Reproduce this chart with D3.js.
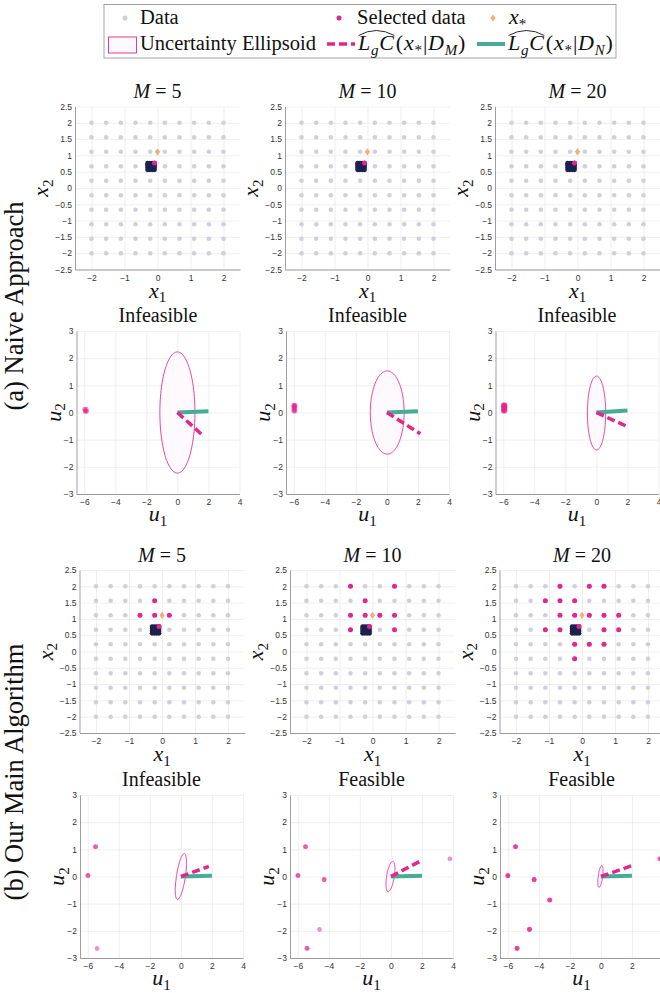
<!DOCTYPE html>
<html><head><meta charset="utf-8">
<script src="https://cdn.jsdelivr.net/npm/d3@7"></script>
<style>body{margin:0;background:#fff}svg{display:block}</style>
</head><body><svg id="c" width="660" height="993"></svg>
<script>
// ---------- data ----------
const gridVals = [-2,-1.556,-1.111,-0.667,-0.222,0.222,0.667,1.111,1.556,2];
const clusterX = [-0.30,-0.23,-0.16,-0.09];
const clusterY = [0.56,0.63,0.70,0.76];
const xStar = [0, 1.111];
const Mvals = [5,10,20];
const rowTitlesTop = ["Infeasible","Infeasible","Infeasible"];
const rowTitlesBot = ["Infeasible","Feasible","Feasible"];
const xTicks = [-2,-1,0,1,2];
const yTicks = [-2.5,-2,-1.5,-1,-0.5,0,0.5,1,1.5,2,2.5];
const uxTicks = [-6,-4,-2,0,2,4];
const uyTicks = [-3,-2,-1,0,1,2,3];

const selNaive5 = [[-0.09,0.77]];
const selNaive10 = [[-0.09,0.77]];
const selNaive20 = [[-0.09,0.77]];
const selMain5 = [[-0.222,1.556],[-0.667,1.111],[-0.222,1.111],[0.222,1.111],[-0.09,0.77]];
const selMain10 = [[-0.667,2],[0.667,2],[-0.222,1.556],[-0.667,1.111],[-0.222,1.111],[0.222,1.111],[0.667,1.111],[-0.667,0.667],[0.667,0.667],[-0.09,0.77]];
const selMain20 = [[-0.667,2],[0.222,2],[0.667,2],[-1.111,1.556],[-0.667,1.556],[-0.222,1.556],[-0.667,1.111],[-0.222,1.111],[0.222,1.111],[0.667,1.111],[1.111,1.111],[-1.111,0.667],[-0.667,0.667],[0.667,0.667],[1.111,0.667],[-0.222,0.222],[0.222,0.222],[0.667,0.222],[-0.222,-0.222],[-0.09,0.77]];

const uNaive5 = [[-5.95,0.06],[-5.88,0.12],[-5.84,0.05],[-5.92,0.03],[-5.97,0.12]];
const uNaive10 = [[-6.0,0.05],[-5.92,0.05],[-6.0,0.14],[-5.92,0.14],[-6.0,0.23],[-5.92,0.23],[-5.96,0.1],[-5.96,0.19],[-6.0,0.27],[-5.92,0.27]];
const uNaive20 = [[-6.0,0.05],[-5.94,0.05],[-5.88,0.05],[-6.0,0.11],[-5.94,0.11],[-5.88,0.11],[-6.0,0.17],[-5.94,0.17],[-5.88,0.17],[-6.0,0.23],[-5.94,0.23],[-5.88,0.23],[-6.0,0.28],[-5.94,0.28],[-5.88,0.28],[-5.97,0.08],[-5.91,0.14],[-5.97,0.2],[-5.91,0.26],[-5.97,0.26]];
const uMain5 = [[-5.5,1.1],[-6.0,0.03],[-5.4,-2.65],[-5.98,0.04],[-5.5,1.09]];
const uMain10 = [[-5.5,1.1],[-6.0,0.03],[-4.3,-0.12],[-4.6,-1.95],[-5.4,-2.65],[3.8,0.65],[-5.98,0.04],[-5.5,1.09],[-4.3,-0.11],[-5.4,-2.64]];
const uMain20 = [[-5.5,1.1],[-6.0,0.03],[-4.3,-0.12],[-3.3,-0.87],[-4.6,-1.95],[-5.4,-2.65],[3.8,0.65],[-5.98,0.04],[-5.5,1.09],[-4.3,-0.11],[-5.4,-2.64],[-3.3,-0.86],[-4.6,-1.94],[-6.0,0.02],[-5.5,1.1],[-4.3,-0.12],[-3.3,-0.87],[-4.6,-1.95],[-5.4,-2.65],[3.8,0.65]];

// uncertainty ellipsoids: centre, semi-axes (major ~vertical, minor), tilt (deg)
const ellCx = [0, 0.02, 0.01, 0, -0.03, -0.03];
const ellCy = [0, 0, -0.02, 0, 0, 0];
const ellA = [2.23, 1.53, 1.36, 0.88, 0.58, 0.41];
const ellB = [1.13, 1.09, 0.59, 0.28, 0.24, 0.14];
const ellTilt = [0, 0, 0, 16, 18, 14];
// LgC estimates (end points, from origin)
const lgcM = [[1.65,-0.85],[2.15,-0.78],[2.0,-0.52],[1.8,0.37],[2.0,0.6],[2.0,0.4]];
const lgcN = [[2.0,0.05],[2.0,0.05],[2.0,0.07],[2.0,0.03],[2.0,0.03],[2.0,0.03]];

// ---------- style ----------
const C_GRAY = "#cfd0da", C_NAVY = "#1c2150", C_PINK = "#e3268b", C_ORANGE = "#f3ad7a", C_TEAL = "#48ab97";
const C_FILL = "#fef9fc";
const SERIF = "'Liberation Serif','Times New Roman',serif";
const SANS = "'Liberation Sans',Arial,sans-serif";
const svg = d3.select("#c");
svg.append("rect").attr("width",660).attr("height",993).attr("fill","#fff");

const W_X = 165, W_U = 163, H = 163;
const topXLeft = [75, 285, 495], topULeft = [76.5, 286, 495.5];
const botXLeft = [79.5, 290, 499.5], botULeft = [80, 290, 500];
const topXTop = 106.5, topUTop = 331, botXTop = 570, botUTop = 795;

function axes(g, xs, ys, xt, yt, w, h, fmtY) {
  g.append("g").attr("transform",`translate(0,${h})`)
    .call(d3.axisBottom(xs).tickValues(xt).tickSize(-h).tickFormat(""))
    .call(s=>{s.select(".domain").remove(); s.selectAll("line").attr("stroke","#e4e4e4").attr("stroke-width",0.6);});
  g.append("g")
    .call(d3.axisLeft(ys).tickValues(yt).tickSize(-w).tickFormat(""))
    .call(s=>{s.select(".domain").remove(); s.selectAll("line").attr("stroke","#e4e4e4").attr("stroke-width",0.6);});
  g.append("g").attr("transform",`translate(0,${h})`)
    .call(d3.axisBottom(xs).tickValues(xt).tickSize(0).tickPadding(5).tickFormat(d3.format("d")))
    .call(s=>{s.select(".domain").attr("stroke","#777").attr("stroke-width",0.7);
      s.selectAll("text").attr("font-family",SANS).attr("font-size",8.5).attr("fill","#333");});
  g.append("g")
    .call(d3.axisLeft(ys).tickValues(yt).tickSize(0).tickPadding(3).tickFormat(fmtY))
    .call(s=>{s.select(".domain").attr("stroke","#777").attr("stroke-width",0.7);
      s.selectAll("text").attr("font-family",SANS).attr("font-size",8.5).attr("fill","#333");});
}

function varLabel(g, x, y, v, sub, rotate) {
  const t = g.append("text").attr("font-family",SERIF).attr("font-size",22).attr("fill","#111")
    .attr("text-anchor","middle")
    .attr("transform", rotate ? `translate(${x},${y}) rotate(-90)` : `translate(${x},${y})`);
  t.append("tspan").attr("font-style","italic").text(v);
  t.append("tspan").attr("font-size",15).attr("dy",4.5).text(sub);
}

function title(g, cx, y, parts) {
  const t = g.append("text").attr("x",cx).attr("y",y).attr("text-anchor","middle")
    .attr("font-family",SERIF).attr("font-size",20).attr("fill","#111");
  parts.forEach(p=>t.append("tspan").attr("font-style",p.it?"italic":"normal").text(p.t));
}

const diamond = (cx, cy, hw, hh) => `M${cx},${cy-hh}L${cx+hw},${cy}L${cx},${cy+hh}L${cx-hw},${cy}Z`;

function panelX(left, top, M, sel) {
  const xs = d3.scaleLinear().domain([-2.5,2.5]).range([0,W_X]);
  const ys = d3.scaleLinear().domain([-2.5,2.5]).range([H,0]);
  const g = svg.append("g").attr("transform",`translate(${left},${top})`);
  axes(g, xs, ys, xTicks, yTicks, W_X, H, d=>d3.format("")(d));
  const grid = d3.cross(gridVals, gridVals);
  g.selectAll(".d").data(grid).join("circle").attr("cx",d=>xs(d[0])).attr("cy",d=>ys(d[1])).attr("r",2.3).attr("fill",C_GRAY);
  const cl = d3.cross(clusterX, clusterY);
  g.selectAll(".n").data(cl).join("circle").attr("cx",d=>xs(d[0])).attr("cy",d=>ys(d[1])).attr("r",2.4).attr("fill",C_NAVY);
  g.selectAll(".s").data(sel).join("circle").attr("cx",d=>xs(d[0])).attr("cy",d=>ys(d[1])).attr("r",2.5).attr("fill",C_PINK);
  g.append("path").attr("d",diamond(xs(xStar[0]),ys(xStar[1]),2.6,3.6)).attr("fill",C_ORANGE);
  title(g, W_X/2, -8.5, [{t:"M",it:true},{t:" = "+M}]);
  varLabel(g, W_X/2, H+28, "x", "1", false);
  varLabel(g, -27, H/2, "x", "2", true);
}

function panelU(left, top, pts, k, ttl) {
  const xs = d3.scaleLinear().domain([-6.5,4]).range([0,W_U]);
  const ys = d3.scaleLinear().domain([-3,3]).range([H,0]);
  const g = svg.append("g").attr("transform",`translate(${left},${top})`);
  axes(g, xs, ys, uxTicks, uyTicks, W_U, H, d3.format("d"));
  const a = ellA[k], b = ellB[k], ph = ellTilt[k]*Math.PI/180;
  const ts = d3.range(0, 2*Math.PI, Math.PI/60);
  const ep = ts.map(t=>[ellCx[k] + a*Math.cos(t)*Math.sin(ph) + b*Math.sin(t)*Math.cos(ph),
                        ellCy[k] + a*Math.cos(t)*Math.cos(ph) - b*Math.sin(t)*Math.sin(ph)]);
  g.append("path").attr("d", d3.line().x(d=>xs(d[0])).y(d=>ys(d[1])).curve(d3.curveLinearClosed)(ep))
    .attr("fill",C_FILL).attr("stroke",C_PINK).attr("stroke-width",0.85);
  g.selectAll(".p").data(pts).join("circle").attr("cx",d=>xs(d[0])).attr("cy",d=>ys(d[1])).attr("r",2.4)
    .attr("fill",C_PINK).attr("fill-opacity",0.5);
  g.append("line").attr("x1",xs(0)).attr("y1",ys(0)).attr("x2",xs(lgcN[k][0])).attr("y2",ys(lgcN[k][1]))
    .attr("stroke",C_TEAL).attr("stroke-width",4);
  g.append("line").attr("x1",xs(0)).attr("y1",ys(0)).attr("x2",xs(lgcM[k][0])).attr("y2",ys(lgcM[k][1]))
    .attr("stroke",C_PINK).attr("stroke-width",3.5).attr("stroke-dasharray","8,4");
  title(g, W_U/2, -9, [{t:ttl}]);
  varLabel(g, W_U/2, H+27, "u", "1", false);
  varLabel(g, -16, H/2, "u", "2", true);
}

const selTop = [selNaive5, selNaive10, selNaive20];
const selBot = [selMain5, selMain10, selMain20];
const uTopPts = [uNaive5, uNaive10, uNaive20];
const uBotPts = [uMain5, uMain10, uMain20];
for (let i=0;i<3;i++) {
  panelX(topXLeft[i], topXTop, Mvals[i], selTop[i]);
  panelU(topULeft[i], topUTop, uTopPts[i], i, rowTitlesTop[i]);
  panelX(botXLeft[i], botXTop, Mvals[i], selBot[i]);
  panelU(botULeft[i], botUTop, uBotPts[i], i+3, rowTitlesBot[i]);
}

// row labels
svg.append("text").attr("transform","translate(23,306) rotate(-90)").attr("text-anchor","middle")
  .attr("font-family",SERIF).attr("font-size",26.5).attr("fill","#111").text("(a) Naive Approach");
svg.append("text").attr("transform","translate(23,772) rotate(-90)").attr("text-anchor","middle")
  .attr("font-family",SERIF).attr("font-size",26.5).attr("fill","#111").text("(b) Our Main Algorithm");

// ---------- legend ----------
const lg = svg.append("g");
lg.append("rect").attr("x",104).attr("y",4.5).attr("width",512).attr("height",53.5).attr("fill","#fff").attr("stroke","#8c8c8c").attr("stroke-width",0.8);
const LFS = 20.5;
function ltext(x, y, parts, fs, ls) {
  const t = lg.append("text").attr("x",x).attr("y",y).attr("font-family",SERIF).attr("font-size",fs||LFS).attr("fill","#111");
  if (ls) t.attr("letter-spacing", ls);
  let shift = 0;
  parts.forEach(p=>{
    const sp = t.append("tspan").attr("font-style",p.it?"italic":"normal").text(p.t);
    const want = p.sub ? 5 : 0;
    if (want !== shift) { sp.attr("dy", want-shift); shift = want; }
    if (p.sub) sp.attr("font-size",15);
  });
  return t;
}
const r1 = 23.5, r2 = 49.5;
lg.append("circle").attr("cx",125).attr("cy",18).attr("r",2.5).attr("fill",C_GRAY);
ltext(140, r1, [{t:"Data"}]);
lg.append("circle").attr("cx",339).attr("cy",18).attr("r",2.5).attr("fill",C_PINK);
ltext(357, r1, [{t:"Selected data"}]);
lg.append("path").attr("d",diamond(493,18,2.6,3.6)).attr("fill",C_ORANGE);
ltext(509, r1, [{t:"x",it:true},{t:"*",sub:true}], 22);
lg.append("rect").attr("x",108.5).attr("y",37).attr("width",28).attr("height",16).attr("fill",C_FILL).attr("stroke",C_PINK).attr("stroke-width",0.9);
ltext(140, r2, [{t:"Uncertainty Ellipsoid"}]);
lg.append("line").attr("x1",327).attr("x2",355).attr("y1",44).attr("y2",44).attr("stroke",C_PINK).attr("stroke-width",3.5).attr("stroke-dasharray","8,4");
lg.append("line").attr("x1",477).attr("x2",505).attr("y1",44).attr("y2",44).attr("stroke",C_TEAL).attr("stroke-width",4);
function lgcLabel(x, sub) {
  const t1 = ltext(x, r2, [{t:"L",it:true},{t:"g",it:true,sub:true},{t:"C",it:true}], 22, 0.8);
  const w = t1.node().getComputedTextLength();
  lg.append("path").attr("d",`M${x+0.5},${r2-14} Q${x+w/2},${r2-24} ${x+w-0.5},${r2-14}`)
    .attr("fill","none").attr("stroke","#111").attr("stroke-width",0.9);
  ltext(x+w+1, r2, [{t:"("},{t:"x",it:true},{t:"*",sub:true},{t:"|"},{t:"D",it:true},{t:sub,it:true,sub:true},{t:")"}], 22, 0.8);
}
lgcLabel(358, "M");
lgcLabel(508, "N");
</script></body></html>
